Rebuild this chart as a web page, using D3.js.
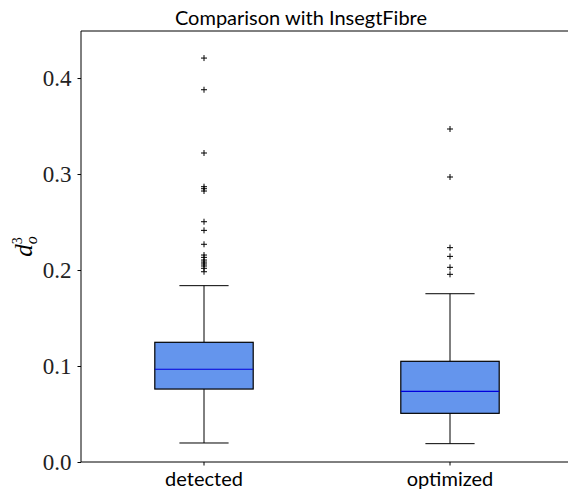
<!DOCTYPE html>
<html>
<head>
<meta charset="utf-8">
<script src="https://cdn.jsdelivr.net/npm/d3@7"></script>
<style>
  html, body { margin: 0; padding: 0; background: #fff; }
  svg { display: block; }
</style>
</head>
<body>
<svg id="chart" width="568" height="493"></svg>
<script>
// ---- data ----
const categories = ["detected", "optimized"];
const whiskerLow  = [0.0198, 0.0191];
const q1          = [0.0760, 0.0507];
const median      = [0.0966, 0.0736];
const q3          = [0.1247, 0.1049];
const whiskerHigh = [0.1837, 0.1753];
const outliersDetected  = [0.4208, 0.3878, 0.3219, 0.2868, 0.2847, 0.2823, 0.2503, 0.2413, 0.2268,
                           0.2156, 0.2132, 0.2104, 0.2083, 0.2063, 0.2042, 0.2018, 0.1982];
const outliersOptimized = [0.3469, 0.2969, 0.2233, 0.2142, 0.2028, 0.1955];
const outliers = [outliersDetected, outliersOptimized];
const yTicks = [0.0, 0.1, 0.2, 0.3, 0.4];
const titleText = "Comparison with InsegtFibre";

// ---- layout ----
const svg = d3.select("#chart");
const mLeft = 81, mRight = 573, mTop = 31, mBottom = 462;

const x = d3.scaleBand().domain(categories).range([mLeft, mRight]).padding(0);
const y = d3.scaleLinear().domain([0, 0.449]).range([mBottom, mTop]);
const bw = x.bandwidth();
const boxW = bw * 0.4;
const capW = boxW / 2;

const data = categories.map((c, i) => ({
  c, lo: whiskerLow[i], q1: q1[i], med: median[i], q3: q3[i], hi: whiskerHigh[i], out: outliers[i]
}));

const g = svg.append("g");

// boxes
const box = g.selectAll("g.box").data(data).enter().append("g").attr("class", "box")
  .attr("transform", d => `translate(${x(d.c) + bw / 2},0)`);

// whiskers
box.append("line").attr("x1", 0).attr("x2", 0)
  .attr("y1", d => y(d.q3)).attr("y2", d => y(d.hi))
  .attr("stroke", "#000").attr("stroke-width", 1);
box.append("line").attr("x1", 0).attr("x2", 0)
  .attr("y1", d => y(d.q1)).attr("y2", d => y(d.lo))
  .attr("stroke", "#000").attr("stroke-width", 1);
// caps
box.append("line").attr("x1", -capW / 2).attr("x2", capW / 2)
  .attr("y1", d => y(d.hi)).attr("y2", d => y(d.hi))
  .attr("stroke", "#000").attr("stroke-width", 1);
box.append("line").attr("x1", -capW / 2).attr("x2", capW / 2)
  .attr("y1", d => y(d.lo)).attr("y2", d => y(d.lo))
  .attr("stroke", "#000").attr("stroke-width", 1);
// box rect
box.append("rect").attr("x", -boxW / 2).attr("width", boxW)
  .attr("y", d => y(d.q3)).attr("height", d => y(d.q1) - y(d.q3))
  .attr("fill", "#6495ED").attr("stroke", "#000").attr("stroke-width", 1.2);
// median
box.append("line").attr("x1", -boxW / 2).attr("x2", boxW / 2)
  .attr("y1", d => y(d.med)).attr("y2", d => y(d.med))
  .attr("stroke", "#0000dd").attr("stroke-width", 1.2);
// outliers "+"
const ms = 3;
box.each(function(d) {
  d3.select(this).selectAll("path.out").data(d.out).enter().append("path")
    .attr("class", "out")
    .attr("d", v => `M${-ms},${y(v)}H${ms}M0,${y(v) - ms}V${y(v) + ms}`)
    .attr("stroke", "#000").attr("stroke-width", 1).attr("fill", "none");
});

// spines
g.append("line").attr("x1", mLeft).attr("x2", mLeft).attr("y1", mTop).attr("y2", mBottom)
  .attr("stroke", "#000").attr("stroke-width", 1);
g.append("line").attr("x1", mLeft).attr("x2", mRight).attr("y1", mBottom).attr("y2", mBottom)
  .attr("stroke", "#000").attr("stroke-width", 1);
g.append("line").attr("x1", mLeft).attr("x2", mRight).attr("y1", mTop).attr("y2", mTop)
  .attr("stroke", "#000").attr("stroke-width", 1);
g.append("line").attr("x1", mRight).attr("x2", mRight).attr("y1", mTop).attr("y2", mBottom)
  .attr("stroke", "#000").attr("stroke-width", 1);

// y axis
const yAxis = d3.axisLeft(y).tickValues(yTicks).tickFormat(d3.format(".1f")).tickSize(3.5).tickPadding(6);
const ya = svg.append("g").attr("transform", `translate(${mLeft},0)`).call(yAxis);
ya.select(".domain").remove();
ya.selectAll("line").attr("stroke", "#000");
ya.selectAll("text").attr("font-family", "'Liberation Serif', serif").attr("font-size", 23)
  .attr("fill", "#222").attr("dy", "0.33em");

// x axis
const xAxis = d3.axisBottom(x).tickSize(3.5).tickPadding(6);
const xa = svg.append("g").attr("transform", `translate(0,${mBottom})`).call(xAxis);
xa.select(".domain").remove();
xa.selectAll("line").attr("stroke", "#000");
xa.selectAll("text").attr("font-family", "Lato, 'DejaVu Sans', sans-serif").attr("font-size", 20)
  .attr("fill", "#000").attr("dy", "0").attr("y", 24);

// title
svg.append("text").attr("x", 301).attr("y", 25).attr("text-anchor", "middle")
  .attr("font-family", "Lato, 'DejaVu Sans', sans-serif").attr("font-size", 20).attr("fill", "#000")
  .text(titleText);

// y label d_o^3
const yl = svg.append("text").attr("transform", `translate(32,${(mTop + mBottom) / 2}) rotate(-90)`)
  .attr("text-anchor", "middle").attr("font-family", "'Liberation Serif', serif").attr("fill", "#000");
yl.append("tspan").attr("font-style", "italic").attr("font-size", 25).text("d");
yl.append("tspan").attr("font-style", "italic").attr("font-size", 16).attr("dy", 5).attr("dx", 0).text("o");
yl.append("tspan").attr("font-size", 14).attr("dy", -15).attr("dx", -8).text("3");
</script>
</body>
</html>
